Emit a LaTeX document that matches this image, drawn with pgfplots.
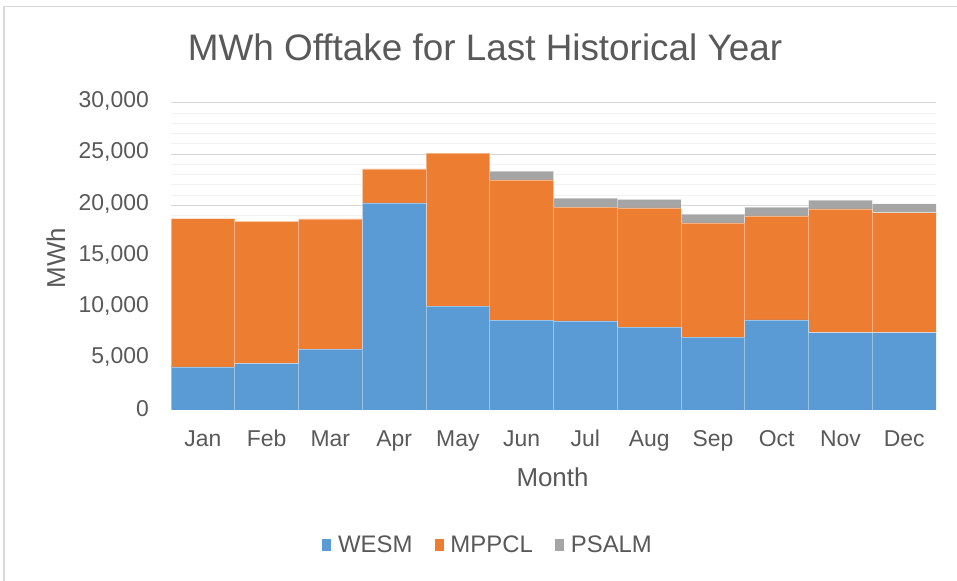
\documentclass[border=0pt]{standalone}
\usepackage{pgfplots}
\pgfplotsset{compat=1.18}
\usepackage{fontspec}
\setmainfont{Liberation Sans}
\definecolor{wesm}{HTML}{5B9BD5}
\definecolor{mppcl}{HTML}{ED7D31}
\definecolor{psalm}{HTML}{A5A5A5}
\definecolor{textgray}{HTML}{595959}
\definecolor{gridmaj}{HTML}{D9D9D9}
\definecolor{gridmin}{HTML}{F2F2F2}
\begin{document}
\begin{tikzpicture}[x=1bp,y=1bp]
\useasboundingbox (0,0) rectangle (957,581);
\fill[white] (0,0) rectangle (957,581);
\draw[gridmaj, line width=1.3bp] (4,-20) -- (4,574.5) -- (980,574.5);
\begin{axis}[
  at={(171bp,171bp)}, anchor=south west,
  scale only axis, width=765bp, height=307bp,
  xmin=-0.5, xmax=11.5, ymin=0, ymax=30000,
  ybar stacked, bar width=63.75bp,
  xtick={0,...,11},
  xticklabels={Jan,Feb,Mar,Apr,May,Jun,Jul,Aug,Sep,Oct,Nov,Dec},
  ytick={0,5000,...,30000},
  minor ytick={1000,2000,3000,4000,6000,7000,8000,9000,11000,12000,13000,14000,16000,17000,18000,19000,21000,22000,23000,24000,26000,27000,28000,29000},
  ymajorgrids, yminorgrids,
  major grid style={draw=gridmaj, line width=1bp},
  minor grid style={draw=gridmin, line width=1bp},
  axis line style={draw=none},
  major tick length=0pt, minor tick length=0pt,
  tick style={draw=none},
  scaled y ticks=false,
  /pgf/number format/assume math mode=true,
  /pgf/number format/1000 sep={,},
  tick label style={font=\fontsize{23}{23}\selectfont, text=textgray},
  yticklabel style={anchor=east, inner sep=0pt, xshift=-22bp, yshift=1.8bp},
  xticklabel style={anchor=base, inner sep=0pt, yshift=-36.7bp},
  legend columns=3,
  legend style={draw=none, fill=none, font=\fontsize{24}{24}\selectfont, text=textgray,
    at={(axis description cs:0.4144,-0.44)}, anchor=center,
    inner sep=0pt,
    /tikz/every odd column/.append style={column sep=5bp},
    /tikz/every even column/.append style={column sep=20bp}},
  legend image code/.code={\fill[#1, draw=none] (0bp,-6bp) rectangle (9bp,6bp);},
]
\addplot[fill=wesm, draw=white, draw opacity=0.4, line width=0.6bp] coordinates {
(0,4220) (1,4550) (2,5945) (3,20240) (4,10140) (5,8770) (6,8700) (7,8090) (8,7115) (9,8800) (10,7570) (11,7570)};
\addlegendentry{WESM}
\addplot[fill=mppcl, draw=white, draw opacity=0.4, line width=0.6bp] coordinates {
(0,14490) (1,13870) (2,12735) (3,3310) (4,14970) (5,13710) (6,11120) (7,11660) (8,11175) (9,10170) (10,12090) (11,11700)};
\addlegendentry{MPPCL}
\addplot[fill=psalm, draw=white, draw opacity=0.4, line width=0.6bp] coordinates {
(0,0) (1,0) (2,0) (3,0) (4,0) (5,850) (6,880) (7,820) (8,850) (9,850) (10,840) (11,880)};
\addlegendentry{PSALM}
\draw[gridmaj, line width=1.2bp] (axis cs:-0.5,0) -- (axis cs:11.5,0);
\end{axis}
\node[anchor=base, text=textgray, font=\fontsize{37}{37}\selectfont, inner sep=0pt] at (485,520.3) {MWh Offtake for Last Historical Year};
\node[anchor=base, text=textgray, font=\fontsize{26}{26}\selectfont, inner sep=0pt] at (552.5,94.3) {Month};
\node[anchor=base, rotate=90, text=textgray, font=\fontsize{26}{26}\selectfont, inner sep=0pt] at (65,323) {MWh};
\end{tikzpicture}
\end{document}
